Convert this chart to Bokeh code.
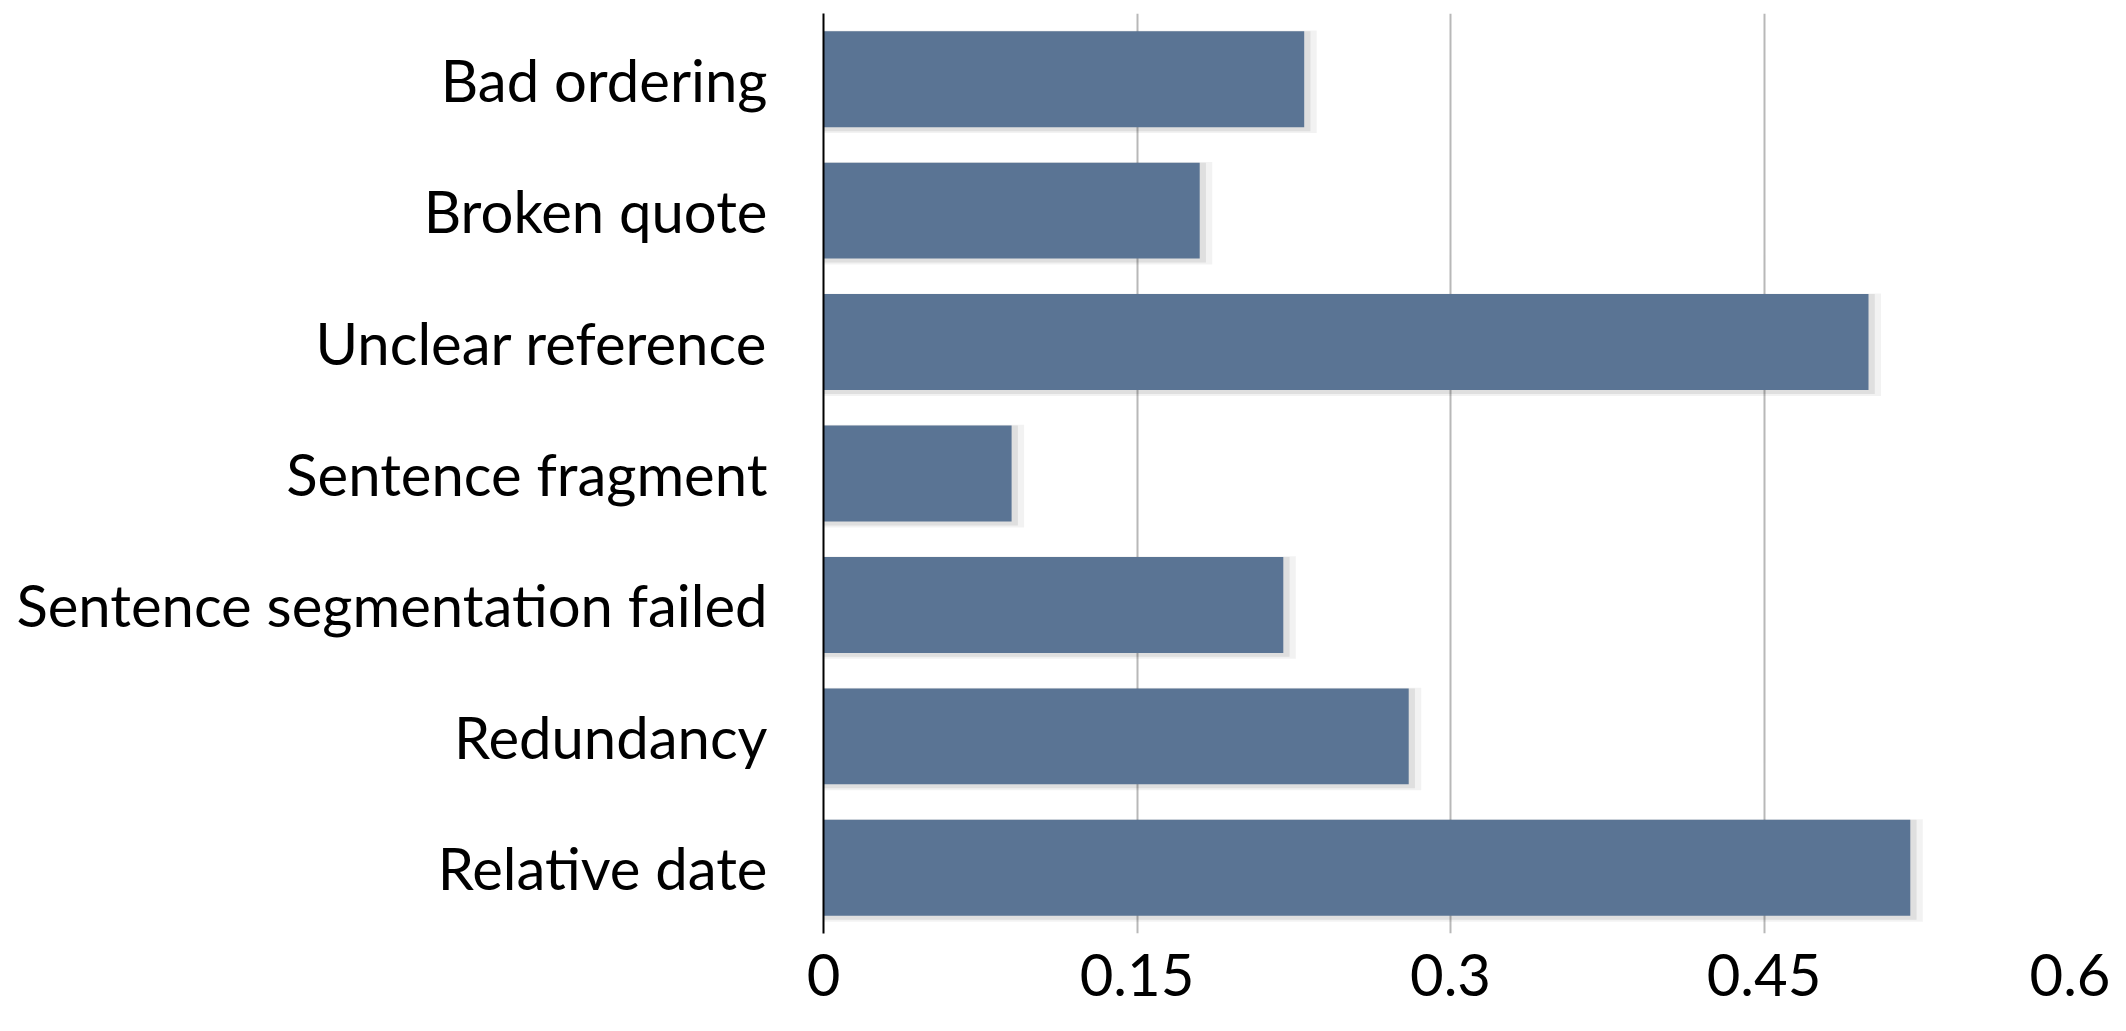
from bokeh.plotting import figure
from bokeh.models import ColumnDataSource, FixedTicker, Range1d
from bokeh.transform import dodge
from bokeh.embed import file_html
from bokeh.resources import INLINE

categories = ["Bad ordering", "Broken quote", "Unclear reference", "Sentence fragment",
              "Sentence segmentation failed", "Redundancy", "Relative date"]
values = [0.23, 0.18, 0.50, 0.09, 0.22, 0.28, 0.52]
x_ticks = [0, 0.15, 0.3, 0.45, 0.6]
x_tick_labels = {0: "0", 0.15: "0.15", 0.3: "0.3", 0.45: "0.45", 0.6: "0.6"}

FONT = "Lato"
BAR = "#5a7494"

src = ColumnDataSource(dict(cat=categories, val=values,
                            sh1=[v + 0.003 for v in values],
                            sh2=[v + 0.006 for v in values]))

p = figure(y_range=list(reversed(categories)), x_range=Range1d(0, 0.6),
           frame_width=1254, frame_height=920,
           min_border_left=823, min_border_right=33, min_border_top=13, min_border_bottom=82,
           output_backend="svg", toolbar_location=None)
p.y_range.range_padding = 0

# soft shadow layers
p.hbar(y=dodge("cat", -0.02, range=p.y_range), left=0, right="sh2", height=0.78,
       source=src, fill_color="#000000", fill_alpha=0.05, line_color=None)
p.hbar(y=dodge("cat", -0.015, range=p.y_range), left=0, right="sh1", height=0.76,
       source=src, fill_color="#000000", fill_alpha=0.08, line_color=None)
p.hbar(y="cat", left=0, right="val", height=0.73, source=src,
       fill_color=BAR, line_color=None)

p.xaxis.ticker = FixedTicker(ticks=x_ticks)
p.xaxis.major_label_overrides = x_tick_labels
p.xaxis.axis_line_color = None
p.xaxis.major_tick_line_color = None
p.xaxis.minor_tick_line_color = None
p.xaxis.major_label_standoff = 14
p.xaxis.major_label_text_font = FONT
p.xaxis.major_label_text_font_size = "58px"
p.xaxis.major_label_text_color = "#000000"

p.yaxis.axis_line_color = "#000000"
p.yaxis.axis_line_width = 2
p.yaxis.major_tick_line_color = None
p.yaxis.minor_tick_line_color = None
p.yaxis.major_label_standoff = 50
p.yaxis.major_label_text_font = FONT
p.yaxis.major_label_text_font_size = "58px"
p.yaxis.major_label_text_color = "#000000"

p.xgrid.grid_line_color = "#b8b8b8"
p.xgrid.grid_line_width = 2
p.ygrid.grid_line_color = None
p.outline_line_color = None
p.background_fill_color = "white"
p.border_fill_color = "white"

open("out.html", "w").write(file_html(p, INLINE))
